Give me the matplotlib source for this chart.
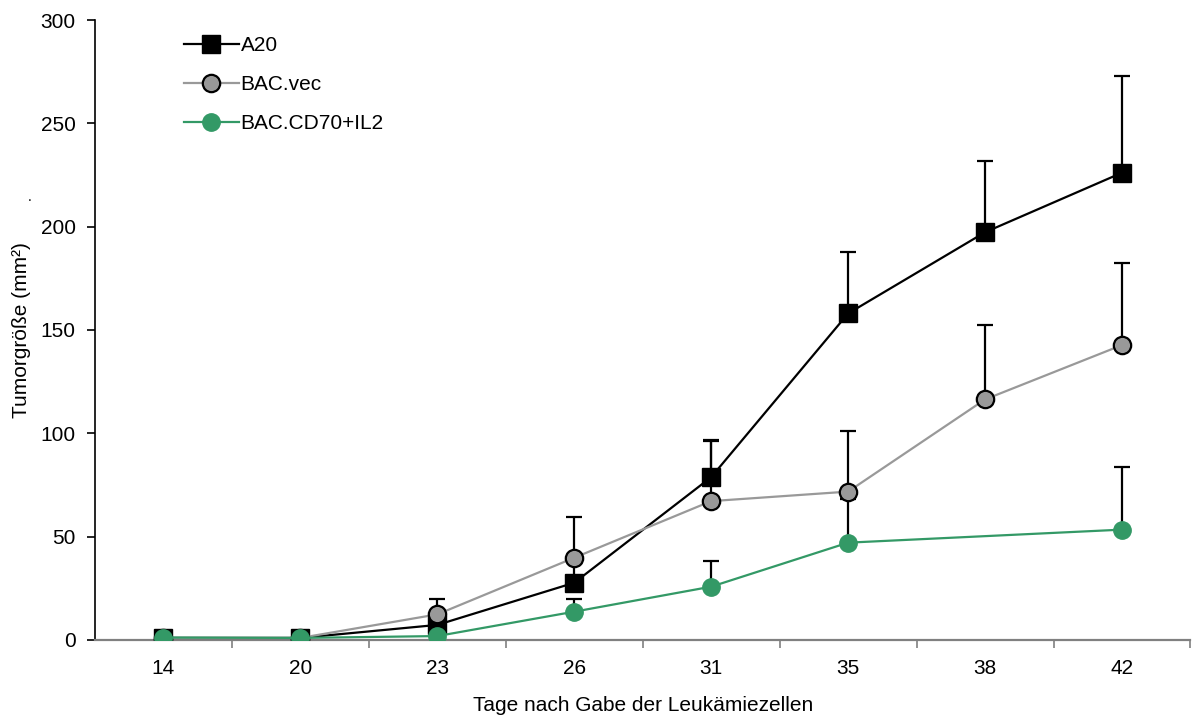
import numpy as np
import matplotlib
matplotlib.use("Agg")
import matplotlib.pyplot as plt

plt.rcParams["font.family"] = ["Liberation Sans", "DejaVu Sans"]

days = ["14", "20", "23", "26", "31", "35", "38", "42"]

a20 = [1.0, 1.0, 7.3, 27.7, 78.8, 158.0, 197.3, 226.1]
a20_err = [0, 0, 0, 13.0, 18.0, 29.7, 34.4, 46.8]

vec = [1.0, 1.0, 12.4, 39.8, 67.2, 71.8, 116.4, 142.7]
vec_err = [0, 0, 7.3, 19.7, 29.0, 29.5, 36.1, 39.9]

# BAC.CD70+IL2 has no value at day 38
cd70_idx = [0, 1, 2, 3, 4, 5, 7]
cd70 = [1.2, 1.0, 1.9, 13.7, 25.8, 47.1, 53.4]
cd70_err = [0, 0, 0, 6.3, 12.6, 21.0, 30.5]

green = "#339966"
fs = 15
x = np.arange(len(days))

fig = plt.figure(figsize=(11.92, 7.17), dpi=100)
ax = fig.add_axes([0.0797, 0.1074, 0.9190, 0.8647])

ekw = dict(fmt="none", ecolor="black", elinewidth=1.6, capsize=6, capthick=1.6, zorder=2)
ax.errorbar(x, a20, yerr=[np.zeros(len(x)), a20_err], **ekw)
ax.errorbar(x, vec, yerr=[np.zeros(len(x)), vec_err], **ekw)
ax.errorbar(cd70_idx, cd70, yerr=[np.zeros(len(cd70)), cd70_err], **ekw)

ax.plot(x, a20, color="black", lw=1.6, marker="s", ms=12.5, mfc="black", mec="black",
        label="A20", zorder=3)
ax.plot(x, vec, color="#999999", lw=1.6, marker="o", ms=12.5, mfc="#999999", mec="black",
        mew=1.6, label="BAC.vec", zorder=4)
ax.plot(cd70_idx, cd70, color=green, lw=1.6, marker="o", ms=12.5, mfc=green, mec=green,
        label="BAC.CD70+IL2", zorder=5)

ax.set_xlim(-0.5, 7.5)
ax.set_ylim(0, 300)
ax.set_yticks([0, 50, 100, 150, 200, 250, 300])
ax.set_xticks(x)
ax.set_xticklabels(days)
ax.set_xticks(np.arange(0.5, 7.6, 1), minor=True)
ax.tick_params(axis="x", which="major", length=0, pad=14, labelsize=fs)
ax.tick_params(axis="x", which="minor", length=6, color="#808080", width=1.2)
ax.tick_params(axis="y", length=6, width=1.2, labelsize=fs, pad=8)

for s in ("top", "right"):
    ax.spines[s].set_visible(False)
ax.spines["bottom"].set_color("#808080")
ax.spines["bottom"].set_linewidth(1.6)
ax.spines["left"].set_linewidth(1.2)

ax.set_xlabel("Tage nach Gabe der Leukämiezellen", fontsize=fs, labelpad=13)
ax.set_ylabel("Tumorgröße (mm²)", fontsize=fs, labelpad=7)
fig.text(0.0235, 0.72, ".", fontsize=10)

ax.legend(loc="upper left", bbox_to_anchor=(0.074, 0.987), frameon=False, fontsize=fs,
          handlelength=2.6, handletextpad=0.1, labelspacing=0.95, borderaxespad=0)

fig.savefig("out.png", dpi=100)
